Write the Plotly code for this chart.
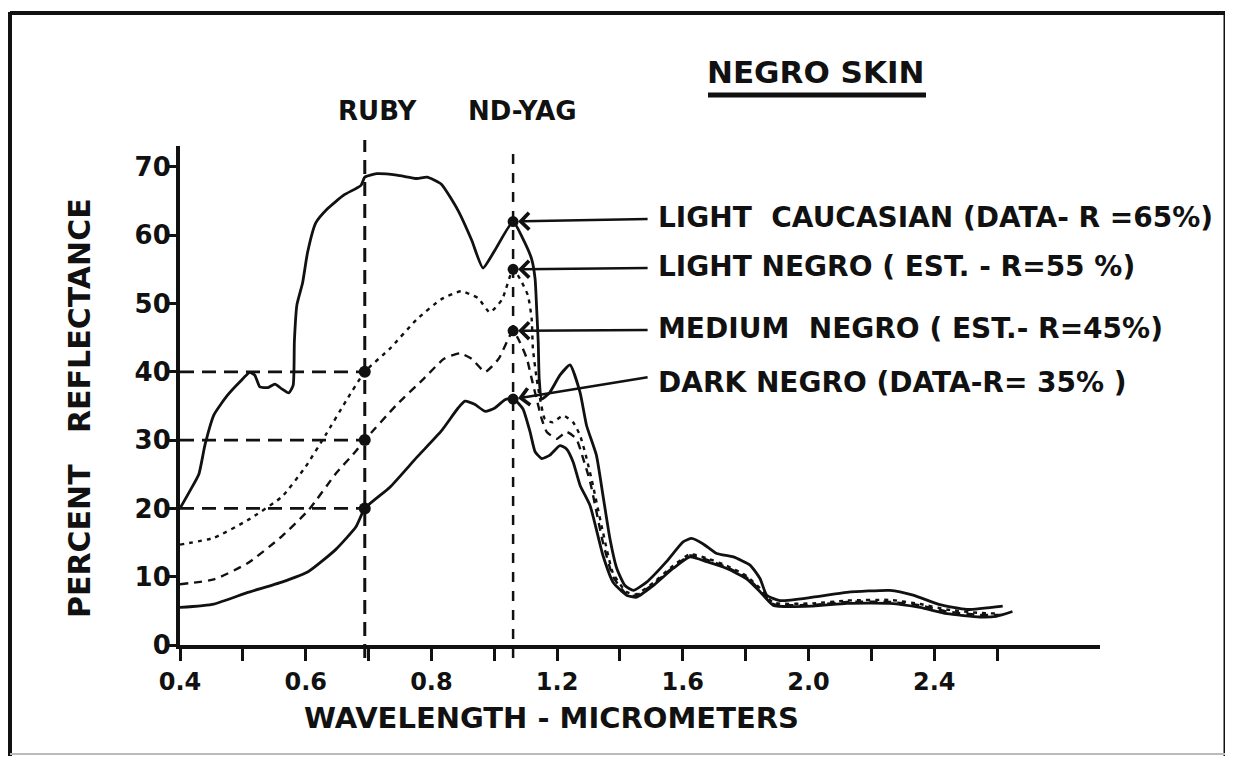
import numpy as np
import plotly.graph_objects as go

# ---------------- data ----------------
lc_wl = [0.400, 0.416, 0.430, 0.440, 0.454, 0.475, 0.495, 0.511, 0.519, 0.527, 0.540, 0.551, 0.562,
         0.573, 0.580, 0.582, 0.586, 0.595, 0.603, 0.616, 0.635, 0.661, 0.688, 0.694, 0.713, 0.745,
         0.777, 0.793, 0.831, 0.885, 0.928, 0.964, 1.002, 1.060, 1.091, 1.119, 1.130, 1.135, 1.140,
         1.143, 1.151, 1.177, 1.209, 1.241, 1.273, 1.294, 1.325, 1.346, 1.368, 1.390, 1.416, 1.443,
         1.485, 1.548, 1.601, 1.628, 1.665, 1.708, 1.761, 1.814, 1.846, 1.867, 1.909, 2.014, 2.122,
         2.259, 2.333, 2.418, 2.504, 2.618]
lc_r = [20.0, 22.6, 25.0, 29.4, 33.7, 36.5, 38.5, 39.9, 39.5, 37.8, 37.7, 38.2, 37.5,
        36.9, 38.0, 44.5, 49.8, 53.0, 57.5, 61.8, 63.9, 65.9, 67.3, 68.5, 69.0, 68.8,
        68.3, 68.5, 67.5, 63.6, 59.3, 55.2, 57.8, 62.0, 59.5, 56.5, 53.6, 49.2, 44.3,
        39.0, 36.0, 37.0, 39.5, 41.0, 37.0, 32.1, 27.8, 21.9, 15.6, 11.2, 8.7, 8.0,
        9.2, 12.2, 15.1, 15.6, 14.8, 13.4, 12.9, 11.7, 9.7, 7.3, 6.5, 7.0, 7.7,
        8.0, 7.3, 5.9, 5.2, 5.7]

ln_wl = [0.400, 0.454, 0.508, 0.562, 0.599, 0.632, 0.664, 0.694, 0.734, 0.777, 0.831, 0.894, 0.948,
         0.986, 1.025, 1.060, 1.082, 1.107, 1.119, 1.123, 1.135, 1.146, 1.161, 1.186, 1.219, 1.251,
         1.273, 1.294, 1.314, 1.346, 1.378, 1.420, 1.450, 1.506, 1.569, 1.623, 1.676, 1.740, 1.803,
         1.846, 1.888, 2.014, 2.122, 2.259, 2.355, 2.440, 2.545, 2.610]
ln_r = [14.7, 15.7, 18.3, 21.7, 26.0, 30.8, 35.7, 40.0, 43.4, 47.7, 50.6, 51.8, 50.8,
        48.7, 50.6, 55.0, 53.6, 51.2, 47.8, 43.4, 39.0, 36.0, 33.1, 32.6, 33.6, 32.6,
        30.7, 27.3, 23.4, 16.5, 10.5, 7.8, 7.4, 9.1, 11.6, 13.3, 12.7, 11.6, 10.1,
        8.3, 6.2, 6.1, 6.5, 6.6, 6.0, 5.2, 4.7, 4.6]

mn_wl = [0.400, 0.454, 0.508, 0.562, 0.605, 0.648, 0.680, 0.694, 0.745, 0.788, 0.840, 0.891, 0.928,
         0.971, 1.014, 1.060, 1.082, 1.104, 1.119, 1.135, 1.151, 1.167, 1.199, 1.230, 1.261, 1.283,
         1.305, 1.346, 1.378, 1.420, 1.450, 1.506, 1.569, 1.623, 1.676, 1.740, 1.803, 1.846, 1.888,
         2.014, 2.122, 2.259, 2.355, 2.440, 2.545, 2.610]
mn_r = [8.9, 9.6, 12.0, 15.9, 19.8, 25.1, 28.4, 30.0, 35.2, 39.0, 41.9, 42.7, 41.9,
        40.0, 41.9, 46.0, 44.3, 41.9, 39.0, 36.0, 33.1, 31.2, 30.2, 31.2, 30.2, 27.3,
        23.9, 15.0, 10.0, 7.5, 7.2, 8.9, 11.4, 13.1, 12.5, 11.4, 9.9, 8.0, 6.0,
        5.9, 6.3, 6.3, 5.8, 4.9, 4.4, 4.4]

dn_wl = [0.400, 0.454, 0.508, 0.562, 0.605, 0.648, 0.680, 0.694, 0.734, 0.777, 0.831, 0.885, 0.907,
         0.939, 0.971, 1.002, 1.034, 1.060, 1.091, 1.114, 1.130, 1.151, 1.177, 1.209, 1.230, 1.251,
         1.273, 1.305, 1.346, 1.378, 1.421, 1.453, 1.506, 1.569, 1.623, 1.676, 1.740, 1.803, 1.846,
         1.888, 2.014, 2.122, 2.259, 2.355, 2.440, 2.545, 2.598, 2.649]
dn_r = [5.5, 6.0, 7.7, 9.2, 10.8, 14.0, 17.3, 20.0, 23.1, 27.5, 31.3, 34.7, 35.7,
        35.2, 34.2, 34.7, 35.9, 36.1, 34.6, 31.2, 28.3, 27.3, 27.8, 29.2, 28.7, 26.8,
        23.4, 20.4, 13.1, 9.2, 7.3, 7.0, 8.7, 11.2, 12.9, 12.2, 11.2, 9.7, 7.8,
        5.8, 5.7, 6.1, 6.1, 5.5, 4.6, 4.1, 4.2, 4.9]

ruby_wl = 0.694
ndyag_wl = 1.06
ruby_levels = [40, 30, 20]
ndyag_levels = [62, 55, 46, 36]

tick_wl = [0.4, 0.5, 0.6, 0.7, 0.8, 1.0, 1.2, 1.4, 1.6, 1.8, 2.0, 2.2, 2.4, 2.6]
tick_lbl = ["0.4", "", "0.6", "", "0.8", "", "1.2", "", "1.6", "", "2.0", "", "2.4", ""]
y_ticks = [0, 10, 20, 30, 40, 50, 60, 70]

labels = ["LIGHT  CAUCASIAN (DATA- R =65%)", "LIGHT NEGRO ( EST. - R=55 %)",
          "MEDIUM  NEGRO ( EST.- R=45%)", "DARK NEGRO (DATA-R= 35% )"]

# ---------------- scale: 0.1 um per division below 0.8 um, 0.2 um per division above ----------------
def u(w):
    w = np.asarray(w, dtype=float)
    return np.where(w <= 0.8, w, 0.8 + (w - 0.8) / 2.0)

# page has an 8px body margin; plot area on screen: x 180..1100, y 146..645
OFF = 8
SW, SH = 1233, 761
PL, PR, PT, PB = 180, 1100, 146, 645
W, H = SW - OFF, SH - OFF
ML, MT = PL - OFF, PT - OFF
MR, MB = W + OFF - PR, H + OFF - PB
PW, PH = PR - PL, PB - PT
XR = [0.4, 0.4 + PW / 628.5]
YR = [0, PH / 6.83]

def px(x):
    return (x - PL) / PW

def py(y):
    return (PB - y) / PH

FONT = "DejaVu Sans"
BLACK = "#111111"

fig = go.Figure()

series = [
    (lc_wl, lc_r, "solid", 2.8),
    (ln_wl, ln_r, "4px,5px", 2.4),
    (mn_wl, mn_r, "8px,6px", 2.4),
    (dn_wl, dn_r, "solid", 2.8),
]
for wl, r, dash, w in series:
    fig.add_trace(go.Scatter(x=u(wl), y=r, mode="lines",
                             line=dict(color=BLACK, width=w, dash=dash, shape="spline", smoothing=0.5),
                             showlegend=False, hoverinfo="skip"))

# markers
fig.add_trace(go.Scatter(x=u([ruby_wl] * len(ruby_levels)), y=ruby_levels, mode="markers",
                         marker=dict(color=BLACK, size=12), showlegend=False, hoverinfo="skip"))
fig.add_trace(go.Scatter(x=u([ndyag_wl] * len(ndyag_levels)), y=ndyag_levels, mode="markers",
                         marker=dict(color=BLACK, size=11), showlegend=False, hoverinfo="skip"))

shapes = []
# vertical laser lines
shapes.append(dict(type="line", xref="x", yref="paper", x0=float(u(ruby_wl)), x1=float(u(ruby_wl)),
                   y0=py(658), y1=py(140), line=dict(color=BLACK, width=3, dash="14px,8px")))
shapes.append(dict(type="line", xref="x", yref="paper", x0=float(u(ndyag_wl)), x1=float(u(ndyag_wl)),
                   y0=py(658), y1=py(145), line=dict(color=BLACK, width=2.5, dash="10px,9px")))
# horizontal reference lines
for lv in ruby_levels:
    shapes.append(dict(type="line", xref="x", yref="y", x0=0.4, x1=float(u(ruby_wl)), y0=lv, y1=lv,
                       line=dict(color=BLACK, width=2.8, dash="14px,8px")))
# underline of title
shapes.append(dict(type="line", xref="paper", yref="paper", x0=px(708), x1=px(926), y0=py(95), y1=py(95),
                   line=dict(color=BLACK, width=5)))
# frame
shapes.append(dict(type="line", xref="paper", yref="paper", x0=px(10), x1=px(10), y0=py(12), y1=py(756),
                   line=dict(color=BLACK, width=4)))
shapes.append(dict(type="line", xref="paper", yref="paper", x0=px(10), x1=px(1225), y0=py(13), y1=py(13),
                   line=dict(color=BLACK, width=4)))
shapes.append(dict(type="line", xref="paper", yref="paper", x0=px(1225), x1=px(1225), y0=py(12), y1=py(756),
                   line=dict(color=BLACK, width=3)))
shapes.append(dict(type="line", xref="paper", yref="paper", x0=px(10), x1=px(1225), y0=py(754), y1=py(754),
                   line=dict(color="#bbbbbb", width=2)))

annotations = []
def txt(x, y, s, size, anchor="center", angle=0):
    annotations.append(dict(xref="paper", yref="paper", x=px(x), y=py(y), text=s, showarrow=False,
                            xanchor=anchor, yanchor="middle", textangle=angle,
                            font=dict(family=FONT, size=size, color=BLACK, weight="bold")))

txt(815, 72, "NEGRO SKIN", 31)
txt(378, 111, "RUBY", 26)
txt(522, 111, "ND-YAG", 26)
txt(551, 718, "WAVELENGTH - MICROMETERS", 29)
txt(79, 408, "PERCENT   REFLECTANCE", 30, angle=-90)

label_y = [217, 266, 328, 382]
tail_y = [219, 268, 330, 377]
for lab, ly, ty, lv in zip(labels, label_y, tail_y, ndyag_levels):
    txt(656, ly, lab, 28, anchor="left")
    annotations.append(dict(xref="x", yref="y", x=float(u(ndyag_wl)), y=lv,
                            axref="pixel", ayref="pixel", ax=650 - 514, ay=ty - (PB - lv * 6.83),
                            text="", showarrow=True, arrowhead=4, arrowsize=1.3, arrowwidth=2.5,
                            arrowcolor=BLACK, standoff=5))

fig.update_layout(
    width=W, height=H, autosize=False,
    margin=dict(l=ML, r=MR, t=MT, b=MB, pad=0),
    paper_bgcolor="white", plot_bgcolor="white",
    shapes=shapes, annotations=annotations,
    xaxis=dict(range=XR, tickvals=u(tick_wl), ticktext=tick_lbl, ticks="outside", ticklen=12,
               tickwidth=3, tickcolor=BLACK, showline=True, linewidth=4, linecolor=BLACK,
               showgrid=False, zeroline=False, ticklabelstandoff=0,
               tickfont=dict(family=FONT, size=24, color=BLACK, weight="bold")),
    yaxis=dict(range=YR, tickvals=y_ticks, ticks="outside", ticklen=10, tickwidth=3, tickcolor=BLACK,
               showline=True, linewidth=4, linecolor=BLACK, showgrid=False, zeroline=False,
               ticklabelstandoff=-10,
               tickfont=dict(family=FONT, size=26, color=BLACK, weight="bold")),
)

fig.write_html("out.html")
